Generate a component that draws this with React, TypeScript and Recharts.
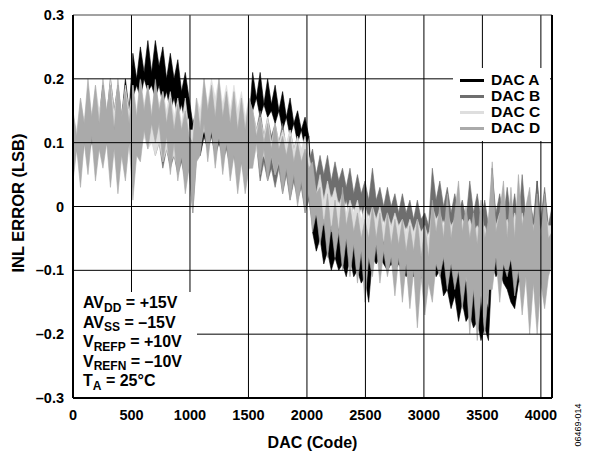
import React from 'react';
import { AreaChart, Area, XAxis, YAxis, ReferenceLine } from 'recharts';

// one reading every 32 codes, last point clamped to 4095
const CODE_STEP = 32;
const MAX_CODE = 4095;

const X_TICKS = [0, 500, 1000, 1500, 2000, 2500, 3000, 3500, 4000];
const Y_TICKS = [-0.3, -0.2, -0.1, 0, 0.1, 0.2, 0.3];

// INL error (LSB): the trace is dense, so each reading is
// the top and the bottom of the trace over that 32-code slice
const DAC_A_HI = [
    0.13, 0.11, 0.15, 0.12, 0.17, 0.13, 0.18, 0.14, 0.19, 0.14, 0.20, 0.15, 0.19, 0.14, 0.20, 0.15,
    0.24, 0.20, 0.25, 0.21, 0.26, 0.21, 0.26, 0.22, 0.25, 0.20, 0.24, 0.20, 0.23, 0.18, 0.21, 0.17,
    0.13, 0.15, 0.12, 0.17, 0.13, 0.16, 0.12, 0.15, 0.13, 0.15, 0.12, 0.14, 0.12, 0.14, 0.11, 0.13,
    0.21, 0.17, 0.21, 0.16, 0.20, 0.16, 0.19, 0.15, 0.18, 0.14, 0.17, 0.13, 0.15, 0.12, 0.14, 0.11,
    0.02, -0.01, 0.01, -0.02, 0.00, -0.03, -0.01, -0.04, -0.02, -0.05, -0.03, -0.06, -0.04, -0.07, -0.05, -0.08,
    -0.03, -0.05, -0.03, -0.06, -0.04, -0.06, -0.04, -0.07, -0.05, -0.07, -0.05, -0.08, -0.06, -0.08, -0.06, -0.08,
    -0.04, -0.06, -0.06, -0.08, -0.07, -0.09, -0.09, -0.10, -0.10, -0.12, -0.11, -0.13, -0.13, -0.14, -0.14, -0.16,
    0.06, -0.04, -0.03, -0.06, -0.04, -0.07, -0.05, -0.06, -0.03, -0.06, -0.01, -0.05, 0.04, -0.05, 0.02, -0.05,
    -0.05,
];
const DAC_A_LO = [
    0.08, 0.11, 0.09, 0.12, 0.10, 0.13, 0.11, 0.12, 0.12, 0.13, 0.13, 0.14, 0.11, 0.13, 0.12, 0.14,
    0.17, 0.19, 0.17, 0.20, 0.18, 0.19, 0.17, 0.19, 0.16, 0.18, 0.15, 0.17, 0.14, 0.16, 0.13, 0.14,
    0.05, 0.09, 0.08, 0.11, 0.09, 0.11, 0.08, 0.10, 0.08, 0.10, 0.07, 0.09, 0.07, 0.08, 0.06, 0.08,
    0.15, 0.17, 0.14, 0.16, 0.14, 0.15, 0.13, 0.15, 0.12, 0.14, 0.11, 0.13, 0.10, 0.12, 0.09, 0.11,
    -0.04, -0.07, -0.05, -0.09, -0.07, -0.10, -0.08, -0.10, -0.09, -0.11, -0.08, -0.11, -0.10, -0.12, -0.11, -0.15,
    -0.08, -0.09, -0.08, -0.09, -0.10, -0.09, -0.10, -0.09, -0.10, -0.11, -0.10, -0.11, -0.10, -0.11, -0.12, -0.11,
    -0.08, -0.11, -0.10, -0.14, -0.13, -0.16, -0.14, -0.18, -0.15, -0.18, -0.17, -0.19, -0.18, -0.21, -0.19, -0.21,
    -0.09, -0.11, -0.10, -0.12, -0.13, -0.15, -0.16, -0.12, -0.11, -0.10, -0.09, -0.11, -0.10, -0.09, -0.10, -0.09,
    -0.08,
];

const DAC_B_HI = [
    0.12, 0.10, 0.15, 0.11, 0.16, 0.12, 0.15, 0.12, 0.17, 0.13, 0.17, 0.13, 0.18, 0.13, 0.17, 0.13,
    0.18, 0.14, 0.19, 0.15, 0.18, 0.14, 0.18, 0.14, 0.17, 0.13, 0.16, 0.12, 0.16, 0.12, 0.14, 0.11,
    0.10, 0.15, 0.12, 0.17, 0.13, 0.17, 0.12, 0.16, 0.12, 0.15, 0.11, 0.15, 0.11, 0.14, 0.10, 0.13,
    0.15, 0.12, 0.15, 0.11, 0.14, 0.11, 0.13, 0.10, 0.13, 0.09, 0.12, 0.09, 0.11, 0.08, 0.10, 0.07,
    0.09, 0.05, 0.08, 0.05, 0.08, 0.04, 0.07, 0.04, 0.06, 0.03, 0.06, 0.02, 0.05, 0.02, 0.04, 0.01,
    0.06, 0.01, 0.03, 0.00, 0.03, 0.00, 0.02, -0.01, 0.02, -0.01, 0.01, -0.02, 0.01, -0.02, -0.01, -0.03,
    0.06, 0.01, 0.04, 0.00, 0.03, -0.01, 0.02, -0.01, 0.01, -0.02, 0.04, -0.01, 0.02, -0.02, 0.01, -0.03,
    0.05, -0.01, 0.02, -0.02, 0.03, -0.02, 0.02, -0.03, 0.05, -0.02, 0.01, -0.02, 0.04, -0.02, 0.03, -0.03,
    0.00,
];
const DAC_B_LO = [
    0.07, 0.09, 0.06, 0.10, 0.08, 0.10, 0.09, 0.11, 0.08, 0.10, 0.09, 0.11, 0.08, 0.10, 0.08, 0.10,
    0.09, 0.11, 0.09, 0.12, 0.10, 0.11, 0.08, 0.10, 0.06, 0.09, 0.06, 0.08, 0.05, 0.07, 0.04, 0.06,
    -0.01, 0.08, 0.10, 0.12, 0.11, 0.12, 0.09, 0.11, 0.07, 0.09, 0.06, 0.08, 0.05, 0.07, 0.04, 0.06,
    0.08, 0.10, 0.04, 0.07, 0.04, 0.06, 0.03, 0.06, 0.02, 0.05, 0.01, 0.04, 0.01, 0.03, -0.01, 0.01,
    -0.03, 0.00, -0.03, 0.01, -0.01, 0.02, -0.01, 0.01, -0.01, 0.01, -0.02, 0.00, -0.02, 0.00, -0.03, -0.01,
    -0.04, -0.02, -0.04, -0.02, -0.04, -0.03, -0.05, -0.03, -0.05, -0.03, -0.05, -0.04, -0.05, -0.04, -0.06, -0.04,
    -0.04, -0.02, -0.04, -0.02, -0.05, -0.03, -0.05, -0.03, -0.05, -0.04, -0.06, -0.04, -0.06, -0.04, -0.07, -0.05,
    -0.05, -0.03, -0.05, -0.03, -0.06, -0.04, -0.06, -0.04, -0.05, -0.04, -0.06, -0.04, -0.05, -0.04, -0.06, -0.04,
    -0.04,
];

const DAC_C_HI = [
    0.14, 0.12, 0.17, 0.13, 0.18, 0.14, 0.19, 0.15, 0.18, 0.14, 0.20, 0.15, 0.19, 0.14, 0.19, 0.15,
    0.19, 0.15, 0.20, 0.16, 0.19, 0.15, 0.19, 0.16, 0.18, 0.15, 0.18, 0.14, 0.17, 0.13, 0.17, 0.12,
    0.12, 0.17, 0.15, 0.20, 0.16, 0.20, 0.17, 0.20, 0.16, 0.19, 0.15, 0.19, 0.15, 0.18, 0.14, 0.17,
    0.15, 0.12, 0.14, 0.11, 0.14, 0.10, 0.13, 0.10, 0.12, 0.10, 0.12, 0.09, 0.11, 0.09, 0.11, 0.08,
    0.05, 0.02, 0.05, 0.01, 0.04, 0.01, 0.03, 0.00, 0.02, -0.01, 0.01, -0.01, 0.01, -0.02, 0.00, -0.02,
    0.00, -0.02, 0.00, -0.03, -0.01, -0.03, -0.01, -0.03, -0.02, -0.04, -0.02, -0.04, -0.02, -0.04, -0.03, -0.05,
    0.00, -0.02, -0.01, -0.03, -0.01, -0.03, -0.02, -0.04, -0.02, -0.03, -0.02, -0.04, -0.03, -0.04, -0.03, -0.05,
    0.01, -0.03, -0.01, -0.03, -0.02, -0.04, -0.01, -0.03, -0.01, -0.04, -0.02, -0.03, -0.02, -0.04, -0.01, -0.03,
    -0.03,
];
const DAC_C_LO = [
    0.08, 0.10, 0.08, 0.11, 0.09, 0.12, 0.10, 0.11, 0.10, 0.12, 0.11, 0.13, 0.10, 0.12, 0.11, 0.13,
    0.09, 0.11, 0.09, 0.11, 0.09, 0.10, 0.08, 0.10, 0.07, 0.09, 0.07, 0.08, 0.06, 0.08, 0.05, 0.07,
    0.02, 0.09, 0.10, 0.12, 0.10, 0.12, 0.09, 0.11, 0.09, 0.10, 0.08, 0.09, 0.07, 0.09, 0.06, 0.07,
    0.07, 0.09, 0.07, 0.08, 0.06, 0.08, 0.05, 0.07, 0.05, 0.07, 0.04, 0.06, 0.04, 0.05, 0.03, 0.04,
    -0.02, -0.01, -0.04, -0.02, -0.04, -0.03, -0.05, -0.03, -0.05, -0.04, -0.06, -0.04, -0.06, -0.05, -0.07, -0.05,
    -0.06, -0.05, -0.07, -0.05, -0.07, -0.06, -0.08, -0.06, -0.08, -0.07, -0.09, -0.07, -0.09, -0.08, -0.09, -0.08,
    -0.08, -0.07, -0.09, -0.07, -0.10, -0.08, -0.10, -0.08, -0.11, -0.09, -0.11, -0.09, -0.11, -0.10, -0.12, -0.10,
    -0.08, -0.07, -0.10, -0.08, -0.10, -0.08, -0.11, -0.08, -0.10, -0.09, -0.11, -0.08, -0.10, -0.08, -0.10, -0.08,
    -0.06,
];

const DAC_D_HI = [
    0.15, 0.11, 0.17, 0.13, 0.20, 0.14, 0.19, 0.13, 0.20, 0.15, 0.19, 0.12, 0.20, 0.14, 0.18, 0.13,
    0.19, 0.14, 0.20, 0.15, 0.19, 0.14, 0.20, 0.15, 0.18, 0.13, 0.17, 0.12, 0.16, 0.12, 0.15, 0.11,
    0.10, 0.17, 0.12, 0.20, 0.15, 0.19, 0.14, 0.20, 0.14, 0.18, 0.13, 0.18, 0.12, 0.17, 0.12, 0.17,
    0.15, 0.11, 0.14, 0.10, 0.13, 0.09, 0.13, 0.09, 0.11, 0.08, 0.11, 0.07, 0.10, 0.07, 0.09, 0.06,
    0.07, 0.02, 0.03, -0.03, 0.02, -0.04, 0.01, -0.04, 0.03, -0.03, 0.00, -0.04, -0.01, -0.05, -0.02, -0.05,
    0.00, -0.05, -0.01, -0.06, -0.01, -0.06, -0.02, -0.06, -0.02, -0.07, -0.03, -0.07, -0.02, -0.08, -0.03, -0.08,
    0.01, -0.04, 0.00, -0.05, 0.02, -0.05, -0.01, 0.04, -0.04, 0.00, -0.05, -0.01, -0.06, 0.01, -0.05, -0.02,
    0.07, -0.04, -0.01, 0.04, -0.05, 0.03, -0.05, 0.05, -0.03, 0.00, 0.03, -0.04, 0.02, -0.05, 0.02, -0.05,
    -0.04,
];
const DAC_D_LO = [
    0.04, 0.09, 0.03, 0.10, 0.05, 0.11, 0.04, 0.09, 0.06, 0.10, 0.03, 0.09, 0.02, 0.08, 0.04, 0.10,
    0.01, 0.08, 0.07, 0.12, 0.09, 0.13, 0.10, 0.13, 0.07, 0.11, 0.05, 0.10, 0.04, 0.08, 0.02, 0.06,
    -0.01, 0.07, 0.08, 0.13, 0.07, 0.12, 0.06, 0.11, 0.05, 0.10, 0.04, 0.08, 0.02, 0.07, 0.02, 0.06,
    0.06, 0.10, 0.05, 0.09, 0.04, 0.08, 0.05, 0.07, 0.02, 0.06, 0.01, 0.05, 0.00, 0.04, -0.01, 0.02,
    -0.04, -0.01, -0.06, -0.02, -0.08, -0.03, -0.08, -0.04, -0.10, -0.05, -0.11, -0.06, -0.12, -0.07, -0.15, -0.08,
    -0.11, -0.06, -0.12, -0.07, -0.11, -0.08, -0.14, -0.08, -0.15, -0.09, -0.16, -0.10, -0.19, -0.11, -0.17, -0.12,
    -0.15, -0.09, -0.11, -0.08, -0.13, -0.09, -0.13, -0.10, -0.16, -0.11, -0.20, -0.13, -0.21, -0.14, -0.20, -0.13,
    -0.13, -0.08, -0.15, -0.09, -0.11, -0.08, -0.14, -0.10, -0.17, -0.11, -0.20, -0.12, -0.20, -0.12, -0.16, -0.11,
    -0.09,
];

const SERIES = [
    { key: 'a', name: 'DAC A', color: '#000000' },
    { key: 'b', name: 'DAC B', color: '#6e6e6e' },
    { key: 'c', name: 'DAC C', color: '#dedede' },
    { key: 'd', name: 'DAC D', color: '#aaaaaa' },
];

const data = DAC_A_HI.map((_, i) => ({
    code: Math.min(i * CODE_STEP, MAX_CODE),
    a: [DAC_A_LO[i], DAC_A_HI[i]],
    b: [DAC_B_LO[i], DAC_B_HI[i]],
    c: [DAC_C_LO[i], DAC_C_HI[i]],
    d: [DAC_D_LO[i], DAC_D_HI[i]],
}));

const FONT = '"Liberation Sans", Arial, Helvetica, sans-serif';
const tickStyle = { fill: '#000', fontSize: 14.5, fontWeight: 700 };

const fmtY = (v: number) => {
    if (v === 0) return '0';
    const s = Math.abs(v).toFixed(1);
    return v < 0 ? '\u2013' + s : s;
};

const Sub = ({ children }: { children: React.ReactNode }) => (
    <span style={{ fontSize: 12, position: 'relative', top: 3.5 }}>{children}</span>
);

export default function App() {
    return (
        <div style={{ position: 'relative', width: 590, height: 454, fontFamily: FONT, background: '#fff' }}>
            <style>{'body{margin:0;}'}</style>
            <AreaChart width={590} height={454} data={data} margin={{ top: 15, right: 38, left: 0, bottom: 0 }}>
                <XAxis
                    dataKey="code"
                    type="number"
                    domain={[0, MAX_CODE]}
                    ticks={X_TICKS}
                    height={56}
                    tickLine={false}
                    tickMargin={6}
                    axisLine={{ stroke: '#000', strokeWidth: 2 }}
                    tick={tickStyle}
                    interval={0}
                    label={{ value: 'DAC (Code)', position: 'insideBottom', offset: 6, fill: '#000', fontSize: 16, fontWeight: 700 }}
                />
                <YAxis
                    type="number"
                    domain={[-0.3, 0.3]}
                    ticks={Y_TICKS}
                    width={73}
                    tickLine={false}
                    tickMargin={3}
                    axisLine={{ stroke: '#000', strokeWidth: 2 }}
                    tick={tickStyle}
                    tickFormatter={fmtY}
                    interval={0}
                    label={{
                        content: () => (
                            <text
                                x={24}
                                y={203}
                                transform="rotate(-90 24 203)"
                                textAnchor="middle"
                                fill="#000"
                                fontSize={16.5}
                                fontWeight={700}
                            >
                                INL ERROR (LSB)
                            </text>
                        ),
                    }}
                />
                {SERIES.map((s) => (
                    <Area
                        key={s.key}
                        dataKey={s.key}
                        name={s.name}
                        type="linear"
                        stroke={s.color}
                        strokeWidth={0.6}
                        fill={s.color}
                        fillOpacity={1}
                        dot={false}
                        activeDot={false}
                        isAnimationActive={false}
                    />
                ))}
                {/* grid sits on top of the traces in the original */}
                {X_TICKS.slice(1).map((x) => (
                    <ReferenceLine key={'vx' + x} x={x} stroke="#000" strokeWidth={1} />
                ))}
                {Y_TICKS.slice(1, -1).map((y) => (
                    <ReferenceLine key={'hy' + y} y={y} stroke="#000" strokeWidth={1} />
                ))}
                <ReferenceLine y={0.3} stroke="#444" strokeWidth={1} />
                <ReferenceLine x={MAX_CODE} stroke="#000" strokeWidth={2} />
            </AreaChart>

            {/* legend box */}
            <div
                style={{
                    position: 'absolute',
                    left: 453,
                    top: 68,
                    width: 97,
                    height: 73,
                    background: '#fff',
                    paddingTop: 4,
                    boxSizing: 'border-box',
                }}
            >
                {SERIES.map((s) => (
                    <div key={s.key} style={{ display: 'flex', alignItems: 'center', height: 16, fontSize: 15.5, fontWeight: 700 }}>
                        <span style={{ display: 'inline-block', width: 24, height: 3, background: s.color, marginLeft: 7, marginRight: 7 }} />
                        <span>{s.name}</span>
                    </div>
                ))}
            </div>

            {/* test conditions */}
            <div
                style={{
                    position: 'absolute',
                    left: 74,
                    top: 292,
                    width: 123,
                    height: 105,
                    background: '#fff',
                    boxSizing: 'border-box',
                    paddingLeft: 9,
                    paddingTop: 2,
                    fontSize: 16,
                    fontWeight: 700,
                    lineHeight: '18.5px',
                    whiteSpace: 'nowrap',
                }}
            >
                <div>AV<Sub>DD</Sub> = +15V</div>
                <div>AV<Sub>SS</Sub> = {'\u2013'}15V</div>
                <div>V<Sub>REFP</Sub> = +10V</div>
                <div>V<Sub>REFN</Sub> = {'\u2013'}10V</div>
                <div>T<Sub>A</Sub> = 25°C</div>
            </div>

            <div
                style={{
                    position: 'absolute',
                    left: 578,
                    top: 425,
                    transform: 'translate(-50%, -50%) rotate(-90deg)',
                    fontSize: 9,
                    color: '#000',
                    whiteSpace: 'nowrap',
                }}
            >
                06469-014
            </div>
        </div>
    );
}
